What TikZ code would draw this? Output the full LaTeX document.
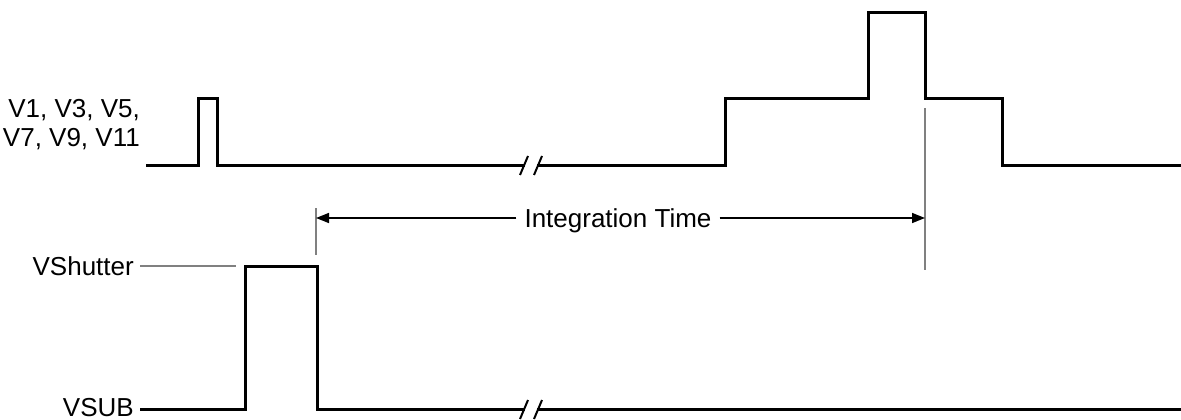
\documentclass[tikz,border=0pt]{standalone}
\usepackage{fontspec}
\setmainfont{Liberation Sans}
\usetikzlibrary{arrows.meta}
\begin{document}
\begin{tikzpicture}[x=1pt,y=-1pt,
    wave/.style={line width=3pt},
    guide/.style={gray,line width=1.5pt},
    brk/.style={line width=2pt},
    lbl/.style={font=\fontsize{26}{29.5}\selectfont,inner xsep=6pt,inner ysep=0pt},
    capbox/.style={text height=18.5pt,text depth=0pt},
    dim/.style={-{Triangle[length=13pt,width=10pt]},line width=1.5pt}]
    \useasboundingbox(0,0)rectangle(1181,420);
    \node[lbl,anchor=north east,align=right](vodd)at(146,99){V1, V3, V5,\\V7, V9, V11};%V-Takte
    \node[lbl,capbox,anchor=east](vsh)at(140,266){VShutter};
    \node[lbl,capbox,anchor=east](vsub)at(140,407){VSUB};
    \draw[wave](vodd.north east|-0,165)-|(198,98)-|(217,165)--(525,165);
    \draw[wave](537,165)-|(725,98)-|(868,13)-|(925,98)-|(1002,165)--(1181,165);
    \draw[brk](520,175)--(528,156)(534,175)--(542,156);%Unterbrechung
    \draw[guide](vsh)--(236,266);
    \draw[wave](vsub.east|-0,409)-|(245,266)-|(317,409)--(525,409);
    \draw[wave](537,409)--(1181,409);
    \draw[brk](520,419)--(528,400)(534,419)--(542,400);%Unterbrechung
    \draw[guide](316,208)--(316,255);
    \draw[guide](925,108)--(925,270);
    \coordinate(itl)at(316,218);
    \coordinate(itr)at(925,218);
    \node[lbl,capbox,inner xsep=8pt](itime)at(618,218){Integration Time};
    \draw[dim](itime)--(itl);
    \draw[dim](itime)--(itr);
  \end{tikzpicture}
\end{document}
